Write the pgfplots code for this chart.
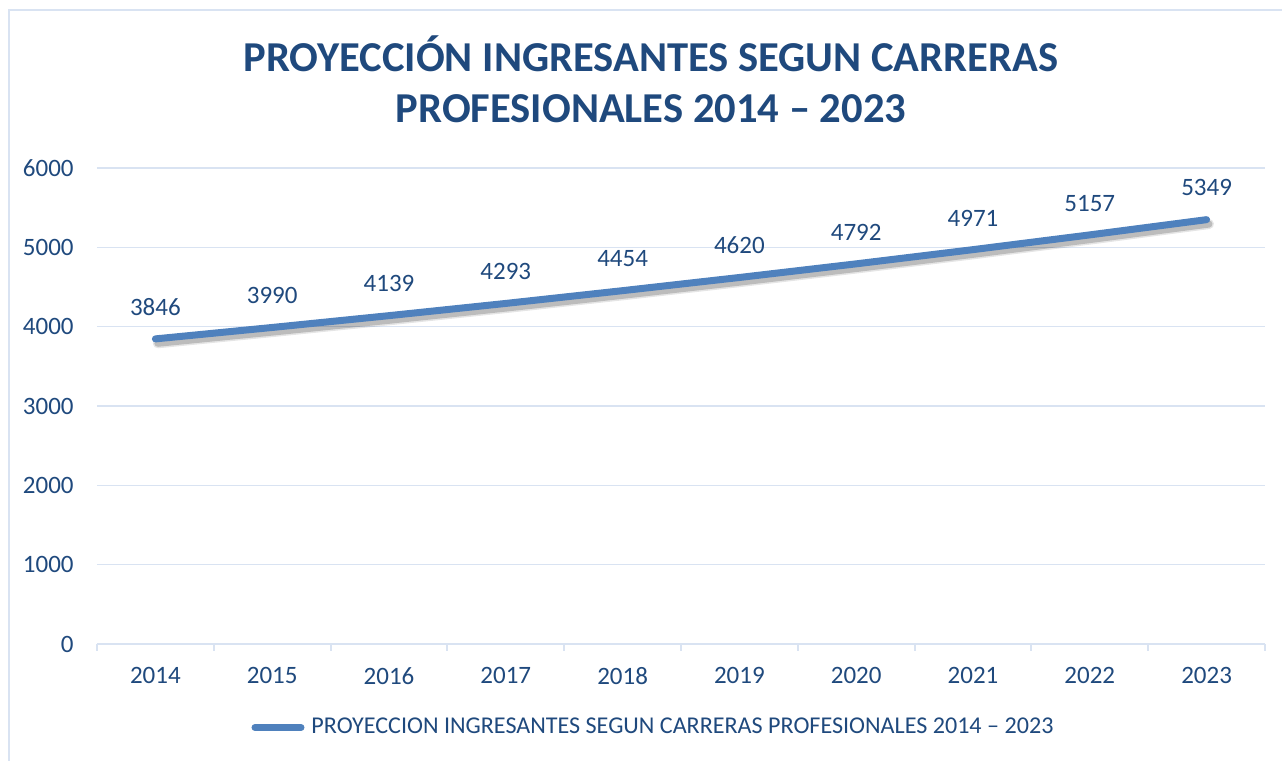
\documentclass[border=0pt]{standalone}
\usepackage{fontspec}
\setmainfont{Carlito}
\usepackage{pgfplots}
\pgfplotsset{compat=1.18}
\definecolor{txt}{HTML}{1F497D}
\definecolor{serie}{HTML}{4F81BD}
\definecolor{rejilla}{HTML}{D9E3F2}

\begin{document}
\begin{tikzpicture}
\useasboundingbox (0,0) rectangle (641pt,380.5pt);
% marco del grafico
\draw[rejilla, line width=1pt] (4.25pt,-10pt) -- (4.25pt,375.5pt) -- (660pt,375.5pt);
% titulo
\node[anchor=base, text=txt, font=\fontsize{21.3}{25}\selectfont\bfseries] at (325.5pt,344.5pt) {PROYECCIÓN INGRESANTES SEGUN CARRERAS};
\node[anchor=base, text=txt, font=\fontsize{21.3}{25}\selectfont\bfseries] at (325.5pt,319pt) {PROFESIONALES 2014 – 2023};

\begin{axis}[at={(48.5pt,58.5pt)}, anchor=south west,
  scale only axis, width=584pt, height=238pt,
  xmin=-0.5, xmax=9.5, ymin=0, ymax=6000,
  xtick={0,...,9},
  xticklabels={2014,2015,2016,2017,2018,2019,2020,2021,2022,2023},
  minor xtick={-0.5,0.5,...,9.5},
  ytick={0,1000,...,6000},
  scaled y ticks=false,
  /pgf/number format/1000 sep={},
  /pgf/number format/assume math mode=true,
  ymajorgrids, grid style={rejilla, line width=0.8pt},
  axis x line*=bottom, axis y line*=left,
  x axis line style={rejilla, line width=1pt, -},
  y axis line style={draw=none},
  tick align=outside, major tick length=0pt, minor tick length=3.5pt,
  minor x tick style={rejilla, line width=1pt},
  major tick style={draw=none},
  ticklabel style={text=txt, font=\fontsize{12.5}{15}\selectfont},
  xticklabel style={inner sep=0pt, anchor=north, yshift=-11.5pt},
  yticklabel style={inner sep=0pt, anchor=east, xshift=-11.5pt},
  legend style={at={(axis description cs:0.4756,0)}, anchor=center, yshift=-41.75pt,
    draw=none, fill=none, text=txt, font=\fontsize{12.05}{14}\selectfont,
    inner sep=0pt, nodes={inner sep=0pt}, /tikz/every odd column/.append style={column sep=3.5pt}},
  legend image code/.code={\draw[#1] (1.75pt,0pt) -- (24.75pt,0pt);},
]
% sombra de la linea
\addplot[forget plot, black, opacity=0.10, line width=5pt, line cap=round, line join=round, xshift=1.2pt, yshift=-2.2pt] coordinates {
(0,3846) (1,3990) (2,4139) (3,4293) (4,4454) (5,4620) (6,4792) (7,4971) (8,5157) (9,5349)};
\addplot[forget plot, black, opacity=0.18, line width=3.5pt, line cap=round, line join=round, xshift=1.2pt, yshift=-2.2pt] coordinates {
(0,3846) (1,3990) (2,4139) (3,4293) (4,4454) (5,4620) (6,4792) (7,4971) (8,5157) (9,5349)};
% serie
\addplot[serie, line width=3.5pt, line cap=round, line join=round,
  nodes near coords,
  nodes near coords style={anchor=south, inner sep=0pt, yshift=10pt, text=txt, font=\fontsize{12.5}{15}\selectfont}]
  coordinates {
(0,3846) (1,3990) (2,4139) (3,4293) (4,4454) (5,4620) (6,4792) (7,4971) (8,5157) (9,5349)};
\addlegendentry{PROYECCION INGRESANTES SEGUN CARRERAS PROFESIONALES 2014 – 2023}
\end{axis}
\end{tikzpicture}
\end{document}
